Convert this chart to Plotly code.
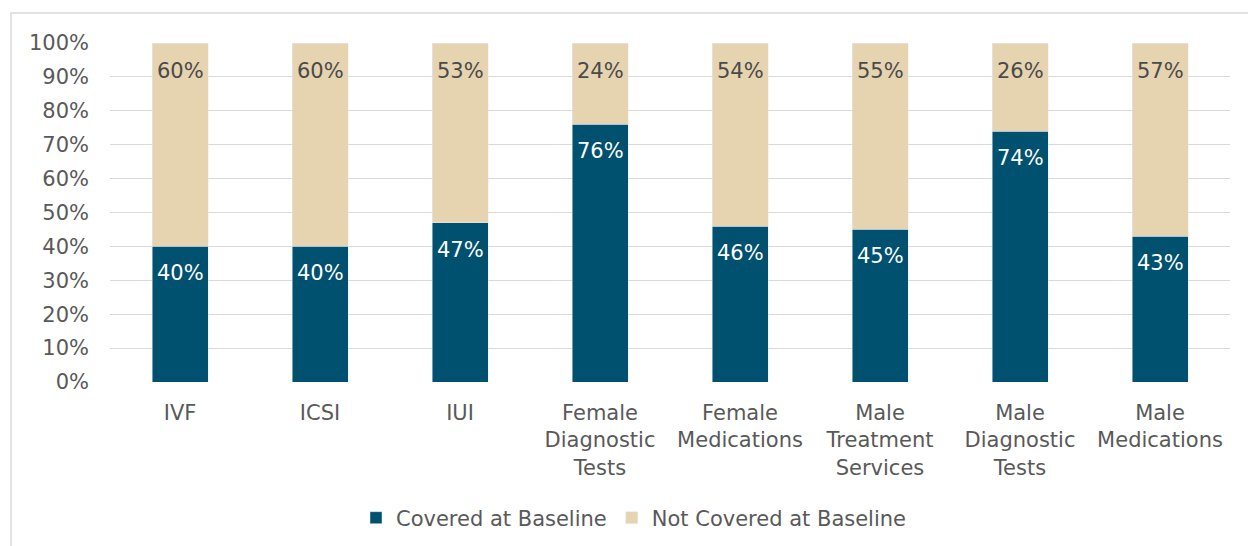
import plotly.graph_objects as go

categories = ["IVF", "ICSI", "IUI", "Female<br>Diagnostic<br>Tests", "Female<br>Medications",
              "Male<br>Treatment<br>Services", "Male<br>Diagnostic<br>Tests", "Male<br>Medications"]
covered = [40, 40, 47, 76, 46, 45, 74, 43]
not_covered = [60, 60, 53, 24, 54, 55, 26, 57]
tick_vals = [0, 10, 20, 30, 40, 50, 60, 70, 80, 90, 100]
tick_text = [f"{v}%" for v in tick_vals]

BLUE = "#00506F"
TAN = "#E6D3B0"
GRAY = "#595959"
FONT = "DejaVu Sans, Liberation Sans, Arial, sans-serif"
FS = 21

fig = go.Figure()
fig.add_trace(go.Bar(name="Covered at Baseline", x=categories, y=covered, marker_color=BLUE))
fig.add_trace(go.Bar(name="Not Covered at Baseline", x=categories, y=not_covered, marker_color=TAN))

annotations = []
for c, cv, nc in zip(categories, covered, not_covered):
    annotations.append(dict(x=c, y=cv, text=f"{cv}%", showarrow=False, yanchor="middle",
                            yshift=-27, font=dict(color="white", size=FS, family=FONT)))
    annotations.append(dict(x=c, y=cv + nc, text=f"{nc}%", showarrow=False, yanchor="middle",
                            yshift=-28, font=dict(color="#4A4A4A", size=FS, family=FONT)))

L, R, T, B = 110, 18, 43, 164
W, H = 1248, 546
pw, ph = W - L - R, H - T - B

fig.update_layout(
    width=W, height=H, barmode="stack", bargap=0.6,
    margin=dict(l=L, r=R, t=T, b=B, autoexpand=False),
    paper_bgcolor="white", plot_bgcolor="white",
    font=dict(family=FONT, size=FS, color=GRAY),
    annotations=annotations,
    legend=dict(orientation="h", xref="container", x=634 / W, xanchor="center",
                yref="container", y=1 - 518 / H, yanchor="middle",
                font=dict(size=FS, color=GRAY), traceorder="normal", itemwidth=30),
    xaxis=dict(showgrid=False, showline=False, ticks="", ticklabelstandoff=16,
               tickfont=dict(size=FS, color=GRAY), automargin=False),
    yaxis=dict(range=[0, 100], tickvals=tick_vals, ticktext=tick_text, showgrid=True,
               gridcolor="#D9D9D9", gridwidth=1.3, zeroline=False, showline=False,
               ticklabelstandoff=20, tickfont=dict(size=FS, color=GRAY), automargin=False),
    shapes=[dict(type="rect", xref="paper", yref="paper",
                 x0=(11 - L) / pw, x1=(1260 - L) / pw,
                 y0=(T + ph - 560) / ph, y1=(T + ph - 13) / ph,
                 line=dict(color="#D9D9D9", width=1.5), fillcolor="rgba(0,0,0,0)", layer="below")],
)

fig.write_html("out.html")
